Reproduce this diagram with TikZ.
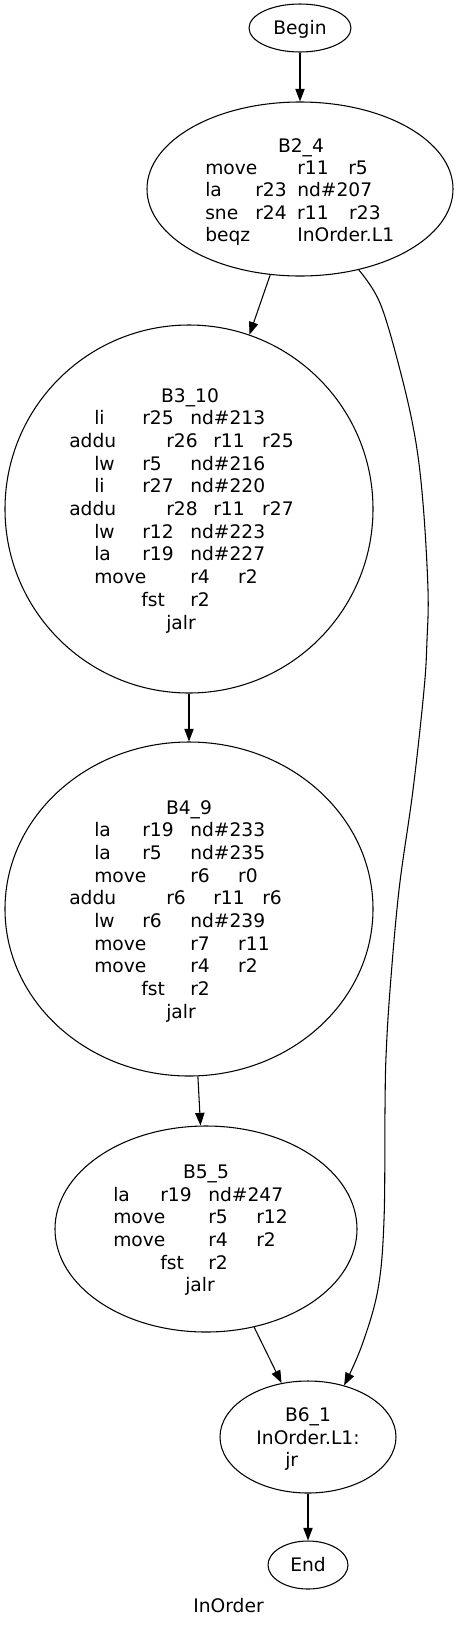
\documentclass[tikz,border=0pt]{standalone}
\usepackage{fontspec}
\setmainfont{DejaVu Sans}
\usetikzlibrary{shapes.geometric,arrows.meta}
\newdimen\pxu \pxu=0.75pt
\newcommand\cw[2]{\makebox[#1\pxu][l]{#2}}
\begin{document}
\begin{tikzpicture}[x=0.75pt,y=-0.75pt,
  blob/.style 2 args={ellipse,draw,line width=0.8pt,inner sep=0pt,minimum width=#1*0.75pt,minimum height=#2*0.75pt,font=\fontsize{14}{16.8}\selectfont,text height=10.2pt,text depth=0pt},
  txt/.style={anchor=base west,inner sep=0pt,font=\fontsize{14}{16.8}\selectfont},
  ttl/.style={anchor=base,inner sep=0pt,font=\fontsize{14}{16.8}\selectfont},
  edge/.style={line width=0.8pt,-{Triangle[length=9.5pt,width=7pt]}}]
\fill[white] (0,0) rectangle (457,1628);
\useasboundingbox (0,0) rectangle (457,1628);

% nodes
\node[blob={102}{48}] (begin) at (300,28) {Begin};
\node[blob={306}{174}] (b24) at (300,189) {};
\node[blob={368}{368}] (b310) at (189,509) {};
\node[blob={368}{334}] (b49) at (189,909) {};
\node[blob={302}{206}] (b55) at (206,1229) {};
\node[blob={176}{112}] (b61) at (308,1437) {};
\node[blob={80}{48}] (end) at (308,1565) {End};

% B2_4 text
\node[ttl] (t24) at (301,152) {B2\_4};
\node[txt] (t24a) at (205,174.4) {\cw{92}{move}\cw{51}{r11}r5};
\node[txt] (t24b) at (205,196.8) {\cw{50}{la}\cw{42}{r23}nd\#207};
\node[txt] (t24c) at (205,219.2) {\cw{50}{sne}\cw{42}{r24}\cw{52}{r11}r23};
\node[txt] (t24d) at (205,241.6) {\cw{92}{beqz}InOrder.L1};

% B3_10 text
\node[ttl] (t310) at (190,402) {B3\_10};
\node[txt] (t310a) at (94,424.7) {\cw{48}{li}\cw{48}{r25}nd\#213};
\node[txt] (t310b) at (69,447.4) {\cw{97}{addu}\cw{47}{r26}\cw{49}{r11}r25};
\node[txt] (t310c) at (94,470.1) {\cw{48}{lw}\cw{48}{r5}nd\#216};
\node[txt] (t310d) at (94,492.8) {\cw{48}{li}\cw{48}{r27}nd\#220};
\node[txt] (t310e) at (69,515.5) {\cw{97}{addu}\cw{47}{r28}\cw{49}{r11}r27};
\node[txt] (t310f) at (94,538.2) {\cw{48}{lw}\cw{48}{r12}nd\#223};
\node[txt] (t310g) at (94,560.9) {\cw{48}{la}\cw{48}{r19}nd\#227};
\node[txt] (t310h) at (94,583.6) {\cw{96}{move}\cw{48}{r4}r2};
\node[txt] (t310i) at (141,606.3) {\cw{49}{fst}r2};
\node[txt] (t310j) at (166,629) {jalr};

% B4_9 text
\node[ttl] (t49) at (189,814) {B4\_9};
\node[txt] (t49a) at (94,836.7) {\cw{48}{la}\cw{48}{r19}nd\#233};
\node[txt] (t49b) at (94,859.4) {\cw{48}{la}\cw{48}{r5}nd\#235};
\node[txt] (t49c) at (94,882.1) {\cw{96}{move}\cw{48}{r6}r0};
\node[txt] (t49d) at (69,904.8) {\cw{97}{addu}\cw{47}{r6}\cw{49}{r11}r6};
\node[txt] (t49e) at (94,927.5) {\cw{48}{lw}\cw{48}{r6}nd\#239};
\node[txt] (t49f) at (94,950.2) {\cw{96}{move}\cw{48}{r7}r11};
\node[txt] (t49g) at (94,972.9) {\cw{96}{move}\cw{48}{r4}r2};
\node[txt] (t49h) at (141,995.6) {\cw{49}{fst}r2};
\node[txt] (t49i) at (166,1018.3) {jalr};

% B5_5 text
\node[ttl] (t55) at (206,1178.4) {B5\_5};
\node[txt] (t55a) at (113,1201.1) {\cw{47}{la}\cw{48}{r19}nd\#247};
\node[txt] (t55b) at (113,1223.8) {\cw{95}{move}\cw{48}{r5}r12};
\node[txt] (t55c) at (113,1246.5) {\cw{95}{move}\cw{48}{r4}r2};
\node[txt] (t55d) at (160,1269.2) {\cw{48}{fst}r2};
\node[txt] (t55e) at (185,1291.9) {jalr};

% B6_1 text
\node[ttl] (t61) at (308,1421) {B6\_1};
\node[ttl] (t61a) at (308,1444) {InOrder.L1:};
\node[txt] (t61b) at (285,1466) {jr};

% graph label
\node[ttl] (label) at (228.5,1612) {InOrder};

% edges
\draw[edge] (begin) -- (b24);
\draw[edge] (b24) -- (b310);
\draw[edge] (b310) -- (b49);
\draw[edge] (b49) -- (b55);
\draw[edge] (b55) -- (b61);
\draw[edge] (b61) -- (end);
\draw[edge] plot[smooth,tension=0.6] coordinates {(b24.306) (380,303) (400,370) (415,437) (423,503) (428,590) (427,640) (424,690) (413,790) (399,890) (390,990) (386,1057) (385,1110) (384,1220) (378,1289) (362,1345) (b61.55)};
\end{tikzpicture}
\end{document}
